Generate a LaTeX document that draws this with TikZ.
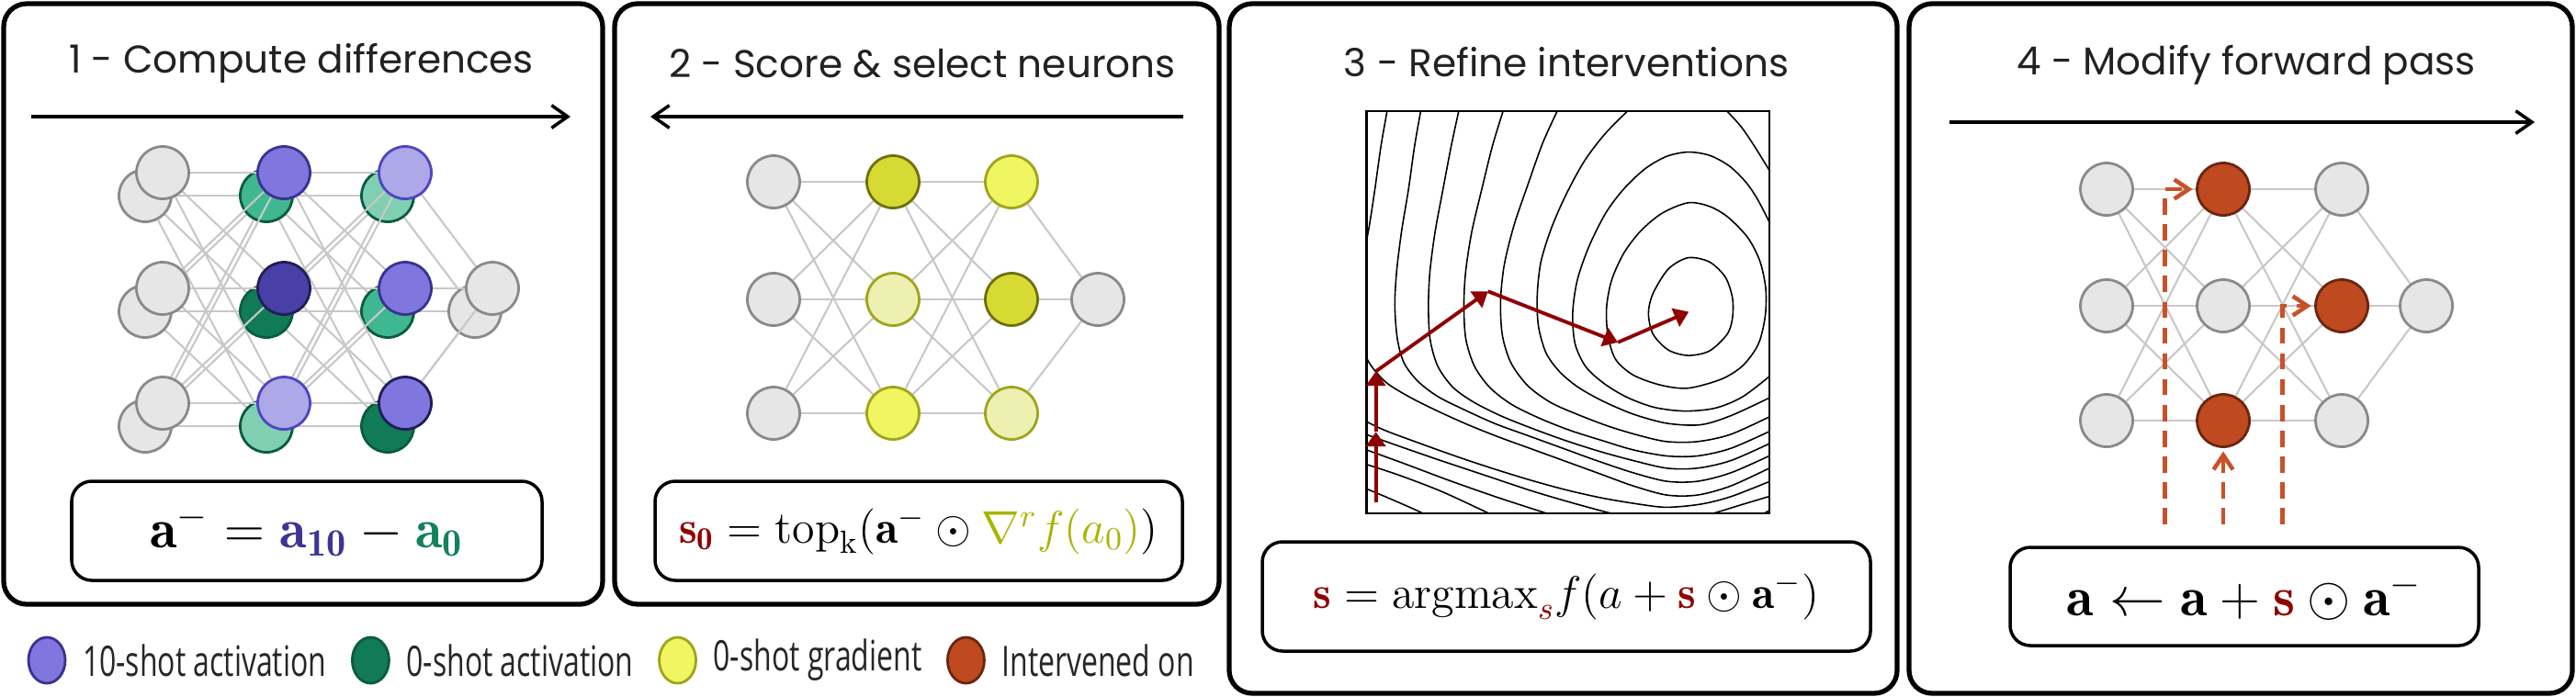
\RequirePackage{fix-cm}
\documentclass[tikz,border=0pt]{standalone}
\usepackage{graphicx}
\usepackage{amsmath}
\usepackage{fontspec}
\usetikzlibrary{arrows.meta,positioning,shapes.geometric}
\newfontfamily\titlefont{Poppins}
\newfontfamily\legendfont{Open Sans}
\newcommand{\squeeze}[1]{\scalebox{0.70}[1]{#1}}

\definecolor{nodegray}{HTML}{E6E6E6}
\definecolor{nodeline}{HTML}{8A8A8A}
\definecolor{edgegray}{HTML}{C8C8C8}
\definecolor{purpmid}{HTML}{7F77DD}
\definecolor{purpdark}{HTML}{4840A6}
\definecolor{purplight}{HTML}{ADA8E8}
\definecolor{purpline}{HTML}{3A3290}
\definecolor{purpdarkline}{HTML}{221D58}
\definecolor{purplightline}{HTML}{4E46BE}
\definecolor{greenmid}{HTML}{3FB892}
\definecolor{greendark}{HTML}{117A56}
\definecolor{greenlight}{HTML}{7FD0B2}
\definecolor{greenline}{HTML}{0B5B3F}
\definecolor{yelbright}{HTML}{F0F562}
\definecolor{yelmid}{HTML}{D8DA34}
\definecolor{yelpale}{HTML}{EEF0B2}
\definecolor{yelline}{HTML}{A0A41C}
\definecolor{yeldarkline}{HTML}{6E700E}
\definecolor{orangeint}{HTML}{BF4A20}
\definecolor{orangeline}{HTML}{6A2610}
\definecolor{dashorange}{HTML}{C8512A}
\definecolor{sred}{HTML}{8F0000}
\definecolor{tenshot}{HTML}{3D3594}
\definecolor{zeroshot}{HTML}{15805A}
\definecolor{gradcol}{HTML}{A9B400}
\definecolor{titlegray}{HTML}{222222}

\pgfdeclarelayer{edgesback}
\pgfdeclarelayer{nodesback}
\pgfdeclarelayer{edgesfront}
\pgfsetlayers{edgesback,nodesback,edgesfront,main}

\tikzset{
  panel/.style={draw=black, line width=1.5pt, rounded corners=0.25cm},
  formbox/.style={draw=black, line width=1pt, rounded corners=0.22cm, inner sep=0pt},
  title/.style={font=\titlefont\fontsize{12}{14}\selectfont, text=titlegray},
  flow/.style={line width=1pt, -{Straight Barb[length=5pt,width=7pt]}},
  neuron/.style 2 args={circle, inner sep=0pt, minimum size=0.57cm, line width=0.8pt, fill=#1, draw=#2},
  graynode/.style={neuron={nodegray}{nodeline}},
  edge/.style={draw=edgegray, line width=0.6pt},
  inject/.style={draw=dashorange, line width=1.3pt, dash pattern=on 5pt off 3pt, -{Straight Barb[length=4.5pt,width=6pt]}},
  ascent/.style={draw=sred, line width=1.1pt, -{Triangle[length=4.5pt,width=6pt]}},
  contour/.style={line width=0.45pt},
  legdot/.style 2 args={ellipse, inner sep=0pt, minimum width=0.40cm, minimum height=0.50cm, line width=0.8pt, fill=#1, draw=#2},
  legtext/.style={font=\legendfont\fontsize{13}{15}\selectfont, text=black!85, inner sep=0pt}
}

\begin{document}
\begin{tikzpicture}[y=-1cm]
\useasboundingbox (0,0) rectangle (28.04,7.58);

% panels
\draw[panel] (0.04,0.04) rectangle (6.56,6.58);
\draw[panel] (6.69,0.04) rectangle (13.27,6.58);
\draw[panel] (13.38,0.04) rectangle (20.65,7.55);
\draw[panel] (20.78,0.04) rectangle (28.00,7.55);

\node[title] (t1) at (3.28,0.69) {1 - Compute differences};
\node[title] (t2) at (10.04,0.69) {2 - Score \& select neurons};
\node[title] (t3) at (17.05,0.68) {3 - Refine interventions};
\node[title] (t4) at (24.45,0.71) {4 - Modify forward pass};

\draw[flow] (0.34,1.27) -- (6.21,1.27);
\draw[flow] (12.88,1.27) -- (7.08,1.27);
\draw[flow] (21.22,1.33) -- (27.59,1.33);

% panel 1: 10-shot on top of 0-shot
\node[graynode] (f11) at (1.77,1.88) {};
\node[graynode] (f12) at (1.77,3.14) {};
\node[graynode] (f13) at (1.77,4.39) {};
\node[neuron={purpmid}{purpline}] (f21) at (3.09,1.88) {};
\node[neuron={purpdark}{purpdarkline}] (f22) at (3.09,3.14) {};
\node[neuron={purplight}{purplightline}] (f23) at (3.09,4.39) {};
\node[neuron={purplight}{purplightline}] (f31) at (4.41,1.88) {};
\node[neuron={purpmid}{purpline}] (f32) at (4.41,3.14) {};
\node[neuron={purpmid}{purpdarkline}] (f33) at (4.41,4.39) {};
\node[graynode] (f4) at (5.36,3.14) {};

\begin{pgfonlayer}{nodesback}
\begin{scope}[shift={(-0.19,0.25)}]
\node[graynode] (b11) at (1.77,1.88) {};
\node[graynode] (b12) at (1.77,3.14) {};
\node[graynode] (b13) at (1.77,4.39) {};
\node[neuron={greenmid}{greenline}] (b21) at (3.09,1.88) {};
\node[neuron={greendark}{greenline}] (b22) at (3.09,3.14) {};
\node[neuron={greenlight}{greenline}] (b23) at (3.09,4.39) {};
\node[neuron={greenlight}{greenline}] (b31) at (4.41,1.88) {};
\node[neuron={greenmid}{greenline}] (b32) at (4.41,3.14) {};
\node[neuron={greendark}{greenline}] (b33) at (4.41,4.39) {};
\node[graynode] (b4) at (5.36,3.14) {};
\end{scope}
\end{pgfonlayer}

\begin{pgfonlayer}{edgesback}
\foreach \a in {1,2,3} {
  \foreach \b in {1,2,3} {
    \draw[edge] (b1\a) -- (b2\b);
    \draw[edge] (b2\a) -- (b3\b);
  }
  \draw[edge] (b3\a) -- (b4);
}
\end{pgfonlayer}
\begin{pgfonlayer}{edgesfront}
\foreach \a in {1,2,3} {
  \foreach \b in {1,2,3} {
    \draw[edge] (f1\a) -- (f2\b);
    \draw[edge] (f2\a) -- (f3\b);
  }
  \draw[edge] (f3\a) -- (f4);
}
\end{pgfonlayer}

\node[formbox, minimum width=5.12cm, minimum height=1.08cm] (eq1) at (3.34,5.78)
  {\LARGE$\mathbf{a}^{-} = {\color{tenshot}\mathbf{a_{10}}} - {\color{zeroshot}\mathbf{a_{0}}}$};

% panel 2: gradient scores
\node[graynode] (g11) at (8.42,1.98) {};
\node[graynode] (g12) at (8.42,3.26) {};
\node[graynode] (g13) at (8.42,4.50) {};
\node[neuron={yelmid}{yeldarkline}] (g21) at (9.72,1.98) {};
\node[neuron={yelpale}{yelline}] (g22) at (9.72,3.26) {};
\node[neuron={yelbright}{yelline}] (g23) at (9.72,4.50) {};
\node[neuron={yelbright}{yelline}] (g31) at (11.01,1.98) {};
\node[neuron={yelmid}{yeldarkline}] (g32) at (11.01,3.26) {};
\node[neuron={yelpale}{yelline}] (g33) at (11.01,4.50) {};
\node[graynode] (g4) at (11.95,3.26) {};

\begin{pgfonlayer}{edgesfront}
\foreach \a in {1,2,3} {
  \foreach \b in {1,2,3} {
    \draw[edge] (g1\a) -- (g2\b);
    \draw[edge] (g2\a) -- (g3\b);
  }
  \draw[edge] (g3\a) -- (g4);
}
\end{pgfonlayer}

\node[formbox, minimum width=5.74cm, minimum height=1.08cm] (eq2) at (10.00,5.78)
  {\fontsize{14.2}{17}\selectfont$\color{sred}\mathbf{s_{0}}\color{black} = \mathrm{top}_{\mathrm{k}}(\mathbf{a}^{-} \odot {\color{gradcol}\nabla^{r} f(a_{0})})$};

% panel 3: contour plot
\begin{scope}[shift={(14.85,1.15)}, x=0.0033333cm, y=-0.0033333cm]
\begin{scope}
\clip (8,18) rectangle (1325,1335);
\draw[contour] plot[smooth cycle] coordinates {(1060,498) (1130,512) (1182,562) (1205,630) (1205,695) (1188,748) (1130,803) (1060,818) (995,800) (945,748) (930,680) (945,615) (995,535)};
\draw[contour] plot[smooth cycle] coordinates {(1060,318) (1130,330) (1190,365) (1255,432) (1295,510) (1314,600) (1312,690) (1290,780) (1240,850) (1170,895) (1060,925) (970,915) (880,882) (822,830) (797,750) (793,660) (810,570) (850,482) (905,410) (975,352)};
\draw[contour] plot[smooth] coordinates {(1340,410) (1290,312) (1250,252) (1195,198) (1130,163) (1060,152) (990,166) (920,206) (850,272) (790,352) (735,462) (697,572) (682,680) (690,780) (725,855) (785,910) (860,955) (950,988) (1050,1000) (1150,990) (1240,952) (1340,875)};
\draw[contour] plot[smooth] coordinates {(880,0) (790,90) (720,182) (660,292) (612,402) (578,512) (566,622) (570,722) (595,810) (640,872) (700,922) (780,967) (880,1010) (990,1040) (1100,1045) (1200,1015) (1340,950)};
\draw[contour] plot[smooth] coordinates {(1170,0) (1230,65) (1275,130) (1340,235)};
\draw[contour] plot[smooth] coordinates {(640,0) (585,120) (535,260) (490,392) (458,522) (446,642) (452,752) (480,842) (535,917) (610,972) (700,1012) (800,1050) (900,1080) (990,1100) (1090,1100) (1200,1076) (1340,1012)};
\draw[contour] plot[smooth] coordinates {(460,0) (420,130) (385,272) (352,412) (332,542) (326,652) (332,762) (360,852) (410,922) (480,977) (570,1022) (670,1062) (780,1097) (880,1127) (990,1147) (1090,1147) (1200,1122) (1340,1060)};
\draw[contour] plot[smooth] coordinates {(313,0) (285,130) (258,272) (232,412) (215,542) (210,652) (215,762) (240,852) (290,922) (360,972) (450,1017) (550,1057) (660,1097) (770,1132) (880,1162) (990,1187) (1090,1187) (1200,1162) (1340,1100)};
\draw[contour] plot[smooth] coordinates {(188,0) (165,130) (145,272) (122,412) (106,542) (100,652) (108,762) (130,842) (175,902) (240,952) (330,997) (430,1042) (540,1082) (650,1122) (760,1162) (880,1202) (990,1230) (1090,1230) (1200,1202) (1340,1140)};
\draw[contour] plot[smooth] coordinates {(78,0) (55,130) (35,272) (15,402) (-10,532) (-25,652) (-15,762) (15,840) (70,905) (150,955) (240,1000) (340,1045) (440,1085) (550,1125) (660,1165) (770,1205) (880,1245) (990,1275) (1090,1275) (1200,1245) (1340,1180)};
\draw[contour] plot[smooth] coordinates {(-40,1010) (60,1060) (180,1105) (300,1148) (420,1188) (540,1225) (660,1258) (780,1285) (900,1305) (990,1315) (1100,1305) (1200,1280) (1340,1225)};
\draw[contour] plot[smooth] coordinates {(-40,1060) (100,1110) (250,1162) (400,1212) (550,1262) (700,1306) (850,1345) (990,1370) (1130,1338) (1230,1308) (1340,1275)};
\draw[contour] plot[smooth] coordinates {(-40,1110) (120,1168) (280,1228) (440,1284) (600,1336) (750,1385)};
\draw[contour] plot[smooth] coordinates {(1280,1350) (1340,1318)};
\draw[contour] plot[smooth] coordinates {(-40,1160) (100,1205) (250,1262) (410,1336) (480,1370)};
\draw[contour] plot[smooth] coordinates {(-40,1235) (80,1285) (195,1336) (260,1370)};
\end{scope}
\draw[line width=0.7pt] (8,18) rectangle (1325,1335);

\coordinate (s0) at (38,1300);
\coordinate (s1) at (38,1068);
\coordinate (s2) at (38,870);
\coordinate (s3) at (405,608);
\coordinate (s4) at (830,775);
\coordinate (s5) at (1062,675);
\draw[ascent] (s0) -- (s1);
\draw[ascent] (s1) -- (s2);
\draw[ascent] (s2) -- (s3);
\draw[ascent] (s3) -- (s4);
\draw[ascent] (s4) -- (s5);
\end{scope}

\node[formbox, minimum width=6.62cm, minimum height=1.19cm] (eq3) at (17.05,6.495)
  {\fontsize{14.2}{17}\selectfont$\color{sred}\mathbf{s}\color{black} = \mathrm{argmax}_{\color{sred}s} f(a + {\color{sred}\mathbf{s}} \odot \mathbf{a}^{-})$};

% panel 4: steered forward pass
\node[graynode] (m11) at (22.93,2.06) {};
\node[graynode] (m12) at (22.93,3.33) {};
\node[graynode] (m13) at (22.93,4.58) {};
\node[neuron={orangeint}{orangeline}] (m21) at (24.20,2.06) {};
\node[graynode] (m22) at (24.20,3.33) {};
\node[neuron={orangeint}{orangeline}] (m23) at (24.20,4.58) {};
\node[graynode] (m31) at (25.49,2.06) {};
\node[neuron={orangeint}{orangeline}] (m32) at (25.49,3.33) {};
\node[graynode] (m33) at (25.49,4.58) {};
\node[graynode] (m4) at (26.41,3.33) {};

\begin{pgfonlayer}{edgesfront}
\foreach \a in {1,2,3} {
  \foreach \b in {1,2,3} {
    \draw[edge] (m1\a) -- (m2\b);
    \draw[edge] (m2\a) -- (m3\b);
  }
  \draw[edge] (m3\a) -- (m4);
}
\end{pgfonlayer}

\coordinate (d1) at (23.565,5.71);
\coordinate (d2) at (24.20,5.71);
\coordinate (d3) at (24.845,5.71);
\draw[inject, shorten >=1pt] (d1) |- (m21);
\draw[inject, shorten >=1pt] (d2) -- (m23);
\draw[inject, shorten >=1pt] (d3) |- (m32);

\node[formbox, minimum width=5.10cm, minimum height=1.07cm] (eq4) at (24.43,6.495)
  {\LARGE$\mathbf{a} \leftarrow \mathbf{a} + {\color{sred}\mathbf{s}} \odot \mathbf{a}^{-}$};

% legend
\node[legdot={purpmid}{purpline}] (k1) at (0.51,7.19) {};
\node[legtext, right=0.17cm of k1] (k1t) {\squeeze{10-shot activation}};
\node[legdot={greendark}{greenline}, right=0.26cm of k1t] (k2) {};
\node[legtext, right=0.17cm of k2] (k2t) {\squeeze{0-shot activation}};
\node[legdot={yelbright}{yelline}, right=0.26cm of k2t] (k3) {};
\node[legtext, right=0.17cm of k3] (k3t) {\squeeze{0-shot gradient}};
\node[legdot={orangeint}{orangeline}, right=0.26cm of k3t] (k4) {};
\node[legtext, right=0.17cm of k4] (k4t) {\squeeze{Intervened on}};
\end{tikzpicture}
\end{document}
